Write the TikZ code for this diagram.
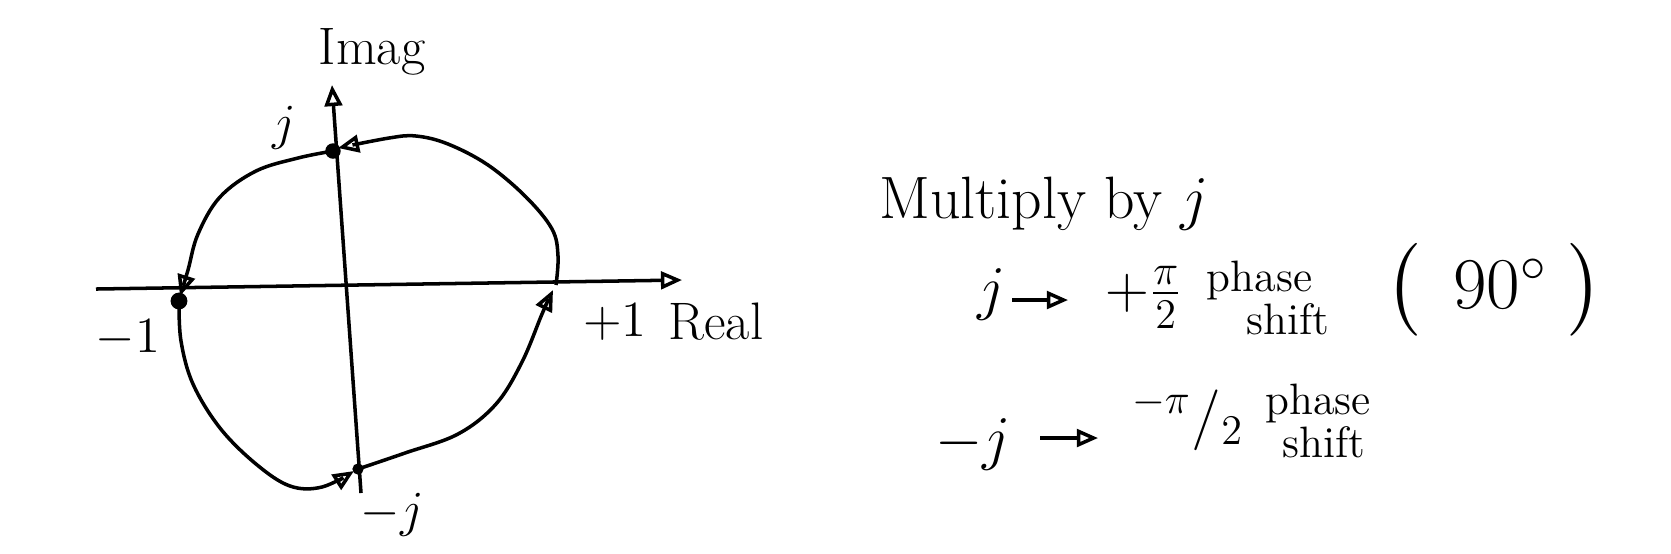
\documentclass[tikz,border=0pt]{standalone}
\usepackage{amsmath,amssymb}
\usepackage{tikz}
\usetikzlibrary{
    arrows.meta,
    positioning
}

\begin{document}
\begin{tikzpicture}[x=0.01cm,y=-0.01cm,line width=1pt,
    tip/.style={-{Triangle[open,length=6pt,width=5pt]}},
    lbl/.style={font=\fontsize{15}{18}\selectfont,inner sep=1pt},
    txt/.style={font=\fontsize{17}{20}\selectfont,inner sep=1pt},
    note/.style={font=\fontsize{12.5}{10}\selectfont,inner sep=0pt,align=left}]

\useasboundingbox (0,0) rectangle (1671,553);

% Axes
\coordinate (rl) at (96,289);
\coordinate (rr) at (682,280);
\coordinate (ib) at (361,493);
\coordinate (it) at (332,85);
\draw[tip] (rl) -- (rr);
\draw[tip] (ib) -- (it);

% Points on the circle
\coordinate (J) at (333,151);
\coordinate (M) at (179,301);
\coordinate (P) at (556,285);
\coordinate (N) at (358,469);

% Circle, in four arrowed quarters
\draw[tip] plot[smooth,tension=0.6] coordinates
    {(P) (558,256) (552,229) (526,197) (488,165) (448,144) (416,136) (389,138) (338,148)};
\draw[tip] plot[smooth,tension=0.6] coordinates
    {(J) (298,158) (256,171) (220,197) (198,234) (188,270) (180,296)};
\draw[tip] plot[smooth,tension=0.6] coordinates
    {(M) (181,341) (193,384) (220,428) (256,464) (290,486) (322,487) (354,471)};
\draw[tip] plot[smooth,tension=0.6] coordinates
    {(N) (405,453) (458,434) (496,404) (522,362) (542,314) (553,290)};

% Dots
\fill (J) circle (2.2pt);
\fill (M) circle (2.4pt);
\fill (N) circle (1.6pt);

% Axis labels
\node[lbl] (imag) at (372,52) {Imag};
\node[lbl] (real) at (716,322) {Real};
\node[lbl] (jl) at (284,128) {$j$};
\node[lbl] (ml) at (128,338) {$-1$};
\node[lbl] (pl) at (615,322) {$+1$};
\node[lbl] (nl) at (392,515) {$-j$};

% Multiply by j
\node[txt,anchor=base west] (mul) at (874,218) {Multiply by $j$};

\node[txt,anchor=base west] (j1) at (972,308) {$j$};
\coordinate (a1) at (1012,300);
\coordinate (a2) at (1068,300);
\draw[tip] (a1) -- (a2);
\node[txt,anchor=base west] (pi1) at (1100,308) {$+\tfrac{\pi}{2}$};
\node[note] (ph1) at (1268,298) {phase\\\hspace*{0.9em}shift};
\node[txt,anchor=base west,font=\fontsize{22}{24}\selectfont] (deg) at (1380,308)
    {$\bigl(\;\,90^{\circ}\;\bigr)$};

\node[txt,anchor=base west] (j2) at (930,458) {$-j$};
\coordinate (b1) at (1040,438);
\coordinate (b2) at (1098,438);
\draw[tip] (b1) -- (b2);
\node[txt] (pi2) at (1188,420) {$^{-\pi}/_{2}$};
\node[note] (ph2) at (1318,421) {phase\\\hspace*{0.4em}shift};

\end{tikzpicture}
\end{document}
